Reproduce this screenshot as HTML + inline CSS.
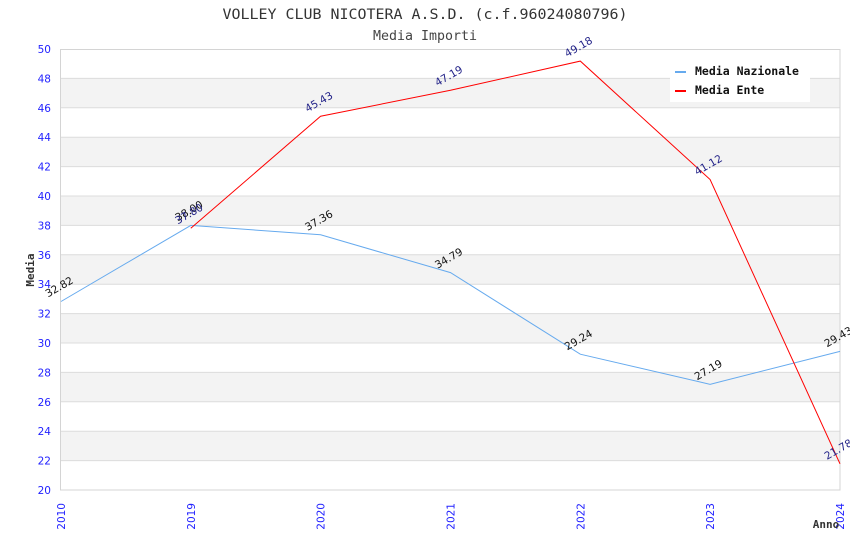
<!DOCTYPE html>
<html><head><meta charset="utf-8"><style>
html,body{margin:0;padding:0;background:#fff;}
svg{display:block;}
</style></head><body>
<svg width="850" height="550" viewBox="0 0 850 550" xmlns="http://www.w3.org/2000/svg">
<rect x="0" y="0" width="850" height="550" fill="#fff"/>
<!-- bands -->
<g fill="#f3f3f3">
<rect x="61" y="78.4" width="779" height="29.4"/>
<rect x="61" y="137.2" width="779" height="29.4"/>
<rect x="61" y="196" width="779" height="29.4"/>
<rect x="61" y="254.8" width="779" height="29.4"/>
<rect x="61" y="313.6" width="779" height="29.4"/>
<rect x="61" y="372.4" width="779" height="29.4"/>
<rect x="61" y="431.2" width="779" height="29.4"/>
</g>
<g stroke="#dcdcdc" stroke-width="1">
<line x1="61" x2="840" y1="78.4" y2="78.4"/>
<line x1="61" x2="840" y1="107.8" y2="107.8"/>
<line x1="61" x2="840" y1="137.2" y2="137.2"/>
<line x1="61" x2="840" y1="166.6" y2="166.6"/>
<line x1="61" x2="840" y1="196" y2="196"/>
<line x1="61" x2="840" y1="225.4" y2="225.4"/>
<line x1="61" x2="840" y1="254.8" y2="254.8"/>
<line x1="61" x2="840" y1="284.2" y2="284.2"/>
<line x1="61" x2="840" y1="313.6" y2="313.6"/>
<line x1="61" x2="840" y1="343" y2="343"/>
<line x1="61" x2="840" y1="372.4" y2="372.4"/>
<line x1="61" x2="840" y1="401.8" y2="401.8"/>
<line x1="61" x2="840" y1="431.2" y2="431.2"/>
<line x1="61" x2="840" y1="460.6" y2="460.6"/>
</g>
<rect x="60.5" y="49.5" width="779.5" height="440.5" fill="none" stroke="#d4d4d4" stroke-width="1"/>

<!-- title -->
<text x="425" y="19" text-anchor="middle" font-family="DejaVu Sans Mono, Liberation Mono, monospace" font-size="14" fill="#333" textLength="405" lengthAdjust="spacingAndGlyphs">VOLLEY CLUB NICOTERA A.S.D. (c.f.96024080796)</text>
<text x="425" y="40" text-anchor="middle" font-family="DejaVu Sans Mono, Liberation Mono, monospace" font-size="13" fill="#444" textLength="104" lengthAdjust="spacingAndGlyphs">Media Importi</text>

<!-- y ticks -->
<g font-family="DejaVu Sans, Liberation Sans, sans-serif" font-size="10.5" fill="#2222ff" text-anchor="end">
<text x="51" y="53">50</text>
<text x="51" y="82.4">48</text>
<text x="51" y="111.8">46</text>
<text x="51" y="141.2">44</text>
<text x="51" y="170.6">42</text>
<text x="51" y="200">40</text>
<text x="51" y="229.4">38</text>
<text x="51" y="258.8">36</text>
<text x="51" y="288.2">34</text>
<text x="51" y="317.6">32</text>
<text x="51" y="347">30</text>
<text x="51" y="376.4">28</text>
<text x="51" y="405.8">26</text>
<text x="51" y="435.2">24</text>
<text x="51" y="464.6">22</text>
<text x="51" y="494">20</text>
</g>
<!-- x ticks -->
<g font-family="DejaVu Sans, Liberation Sans, sans-serif" font-size="10.5" fill="#2222ff" text-anchor="end">
<text transform="translate(65,503) rotate(-90)">2010</text>
<text transform="translate(194.8,503) rotate(-90)">2019</text>
<text transform="translate(324.6,503) rotate(-90)">2020</text>
<text transform="translate(454.5,503) rotate(-90)">2021</text>
<text transform="translate(584.3,503) rotate(-90)">2022</text>
<text transform="translate(714.1,503) rotate(-90)">2023</text>
<text transform="translate(844,503) rotate(-90)">2024</text>
</g>

<!-- axis titles -->
<text transform="translate(34,270) rotate(-90)" text-anchor="middle" font-family="DejaVu Sans Mono, Liberation Mono, monospace" font-size="11" font-weight="bold" fill="#333">Media</text>
<text x="826" y="528" text-anchor="middle" font-family="DejaVu Sans Mono, Liberation Mono, monospace" font-size="11" font-weight="bold" fill="#333">Anno</text>

<!-- series -->
<polyline fill="none" stroke="#66aaee" stroke-width="1" points="61,301.5 190.8,225.4 320.6,234.8 450.5,272.6 580.3,354.2 710.1,384.3 840,351.4"/>
<polyline fill="none" stroke="#ff0000" stroke-width="1" points="190.8,228.3 320.6,116.2 450.5,90.3 580.3,61.1 710.1,179.5 840,463.8"/>

<!-- value labels -->
<g font-family="DejaVu Sans, Liberation Sans, sans-serif" font-size="10.5" fill="#111" text-anchor="middle">
<text transform="translate(61,290) rotate(-30)">32.82</text>
<text transform="translate(190.8,214) rotate(-30)">38.00</text>
<text transform="translate(320.6,223.5) rotate(-30)">37.36</text>
<text transform="translate(450.5,261.3) rotate(-30)">34.79</text>
<text transform="translate(580.3,343) rotate(-30)">29.24</text>
<text transform="translate(710.1,373) rotate(-30)">27.19</text>
<text transform="translate(840,340) rotate(-30)">29.43</text>
</g>
<g font-family="DejaVu Sans, Liberation Sans, sans-serif" font-size="10.5" fill="#222288" text-anchor="middle">
<text transform="translate(190.8,217) rotate(-30)">37.80</text>
<text transform="translate(320.6,105) rotate(-30)">45.43</text>
<text transform="translate(450.5,79) rotate(-30)">47.19</text>
<text transform="translate(580.3,50) rotate(-30)">49.18</text>
<text transform="translate(710.1,168) rotate(-30)">41.12</text>
<text transform="translate(840,452.5) rotate(-30)">21.78</text>
</g>

<!-- legend -->
<rect x="670" y="58" width="140" height="44" fill="#fff"/>
<rect x="675" y="71" width="11" height="2" fill="#66aaee"/>
<rect x="675" y="90" width="11" height="2" fill="#ff0000"/>
<g font-family="DejaVu Sans Mono, Liberation Mono, monospace" font-size="11.5" font-weight="bold" fill="#111">
<text x="695" y="75" textLength="104" lengthAdjust="spacingAndGlyphs">Media Nazionale</text>
<text x="695" y="94">Media Ente</text>
</g>
</svg>
</body></html>
